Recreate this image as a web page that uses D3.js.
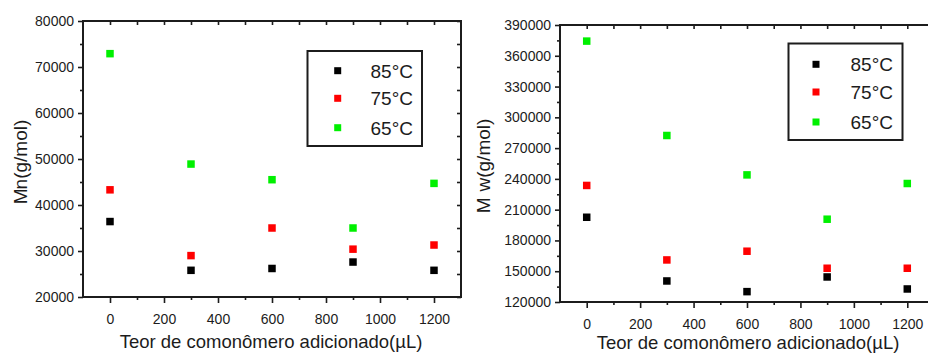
<!DOCTYPE html>
<html>
<head>
<meta charset="utf-8">
<script src="https://cdn.jsdelivr.net/npm/d3@7"></script>
<style>
  html, body { margin: 0; padding: 0; background: #fff; }
  svg { display: block; font-family: "Liberation Sans", Arial, sans-serif; }
</style>
</head>
<body>
<svg id="chart" width="928" height="354"></svg>
<script>
// Comonomer volume added (µL) and polymerisation temperatures
const comonomer = [0, 300, 600, 900, 1200];
const temps = ["85°C", "75°C", "65°C"];
const tempColors = ["#000000", "#ff0000", "#00f000"];

// Number-average molar mass Mn (g/mol)
const mn85 = [36400, 25800, 26200, 27600, 25800];
const mn75 = [43300, 29000, 35000, 30400, 31300];
const mn65 = [72900, 48900, 45500, 35000, 44700];

// Weight-average molar mass Mw (g/mol)
const mw85 = [202600, 140500, 130100, 144400, 132700];
const mw75 = [233600, 161000, 169500, 152900, 152900];
const mw65 = [374300, 282300, 243900, 200700, 235500];

// Axis ticks
const xMajor = [0, 200, 400, 600, 800, 1000, 1200];
const xMinor = [-100, 100, 300, 500, 700, 900, 1100, 1300];
const mnMajor = [20000, 30000, 40000, 50000, 60000, 70000, 80000];
const mwMajor = [120000, 150000, 180000, 210000, 240000, 270000, 300000, 330000, 360000, 390000];

const svg = d3.select("#chart");
const ink = "#1c1c1c";

function panel(cfg) {
  const g = svg.append("g");
  const x = d3.scaleLinear().domain([-100, 1300]).range([cfg.left, cfg.right]);
  const y = d3.scaleLinear().domain(cfg.yDomain).range([cfg.bottom, cfg.top]);

  const styleAxis = sel => {
    sel.select(".domain").remove();
    sel.selectAll(".tick line").attr("stroke", ink).attr("stroke-width", 1.6);
    sel.selectAll(".tick text").attr("fill", ink).attr("font-size", 14)
      .attr("font-family", "Liberation Sans, Arial, sans-serif");
  };

  // bottom: major ticks with labels, minor ticks between
  g.append("g").attr("transform", `translate(0,${cfg.bottom})`)
    .call(d3.axisBottom(x).tickValues(xMajor).tickSize(6).tickPadding(11).tickFormat(d3.format("d")))
    .call(styleAxis);
  g.append("g").attr("transform", `translate(0,${cfg.bottom})`)
    .call(d3.axisBottom(x).tickValues(xMinor.filter(v => v > -100 && v < 1300)).tickSize(3).tickFormat(""))
    .call(styleAxis);
  // top: mirrored inward ticks
  g.append("g").attr("transform", `translate(0,${cfg.top})`)
    .call(d3.axisTop(x).tickValues(xMajor.concat(xMinor).filter(v => v > -100 && v < 1300)).tickSize(-4).tickFormat(""))
    .call(styleAxis);

  // left: major ticks with labels, minor ticks between
  const yMinor = d3.range(cfg.yDomain[0] + cfg.yStep / 2, cfg.yDomain[1], cfg.yStep);
  g.append("g").attr("transform", `translate(${cfg.left},0)`)
    .call(d3.axisLeft(y).tickValues(cfg.yMajor).tickSize(5).tickPadding(4).tickFormat(d3.format("d")))
    .call(styleAxis);
  g.append("g").attr("transform", `translate(${cfg.left},0)`)
    .call(d3.axisLeft(y).tickValues(yMinor).tickSize(3).tickFormat(""))
    .call(styleAxis);
  // right: mirrored inward ticks
  g.append("g").attr("transform", `translate(${cfg.right},0)`)
    .call(d3.axisRight(y).tickValues(cfg.yMajor.concat(yMinor)).tickSize(-4).tickFormat(""))
    .call(styleAxis);

  // frame
  g.append("rect")
    .attr("x", cfg.left).attr("y", cfg.top)
    .attr("width", cfg.right - cfg.left).attr("height", cfg.bottom - cfg.top)
    .attr("fill", "none").attr("stroke", ink).attr("stroke-width", 2);

  // data markers
  const s = 7.5;
  cfg.series.forEach((vals, i) => {
    g.append("g").selectAll("rect").data(vals).join("rect")
      .attr("x", (d, j) => x(comonomer[j]) - s / 2)
      .attr("y", d => y(d) - s / 2)
      .attr("width", s).attr("height", s)
      .attr("fill", tempColors[i]);
  });

  // legend
  const L = cfg.legend;
  g.append("rect")
    .attr("x", L.x0).attr("y", L.y0).attr("width", L.x1 - L.x0).attr("height", L.y1 - L.y0)
    .attr("fill", "#fff").attr("stroke", ink).attr("stroke-width", 2);
  temps.forEach((t, i) => {
    const ry = L.rows[i];
    g.append("rect").attr("x", L.mx - 3.5).attr("y", ry - 3.5).attr("width", 7).attr("height", 7)
      .attr("fill", tempColors[i]);
    g.append("text").attr("x", L.tx).attr("y", ry + 7)
      .attr("text-anchor", "end").attr("font-size", 19).attr("fill", ink).text(t);
  });

  // axis titles
  g.append("text")
    .attr("x", (cfg.xTitle.x)).attr("y", cfg.xTitle.y)
    .attr("text-anchor", "middle").attr("font-size", 18.5).attr("fill", ink)
    .text("Teor de comonômero adicionado(µL)");
  const yt = g.append("text")
    .attr("transform", `translate(${cfg.yTitle.x},${cfg.yTitle.y}) rotate(-90)`)
    .attr("text-anchor", "middle").attr("font-size", 19).attr("fill", ink);
  yt.append("tspan").text("M");
  yt.append("tspan").attr("dx", cfg.yTitle.gap).text(cfg.yTitle.rest);
}

panel({
  left: 83, right: 461, top: 21, bottom: 297,
  yDomain: [20000, 80000], yMajor: mnMajor, yStep: 10000,
  series: [mn85, mn75, mn65],
  legend: { x0: 307.5, x1: 422, y0: 51, y1: 146, mx: 337.7, tx: 413, rows: [70.7, 98.3, 127.7] },
  xTitle: { x: 271, y: 348 },
  yTitle: { x: 27, y: 162, gap: -1, rest: "n(g/mol)" }
});

panel({
  left: 560, right: 934, top: 25, bottom: 302,
  yDomain: [120000, 390000], yMajor: mwMajor, yStep: 30000,
  series: [mw85, mw75, mw65],
  legend: { x0: 788.5, x1: 902.5, y0: 43.5, y1: 140, mx: 816, tx: 893, rows: [64.3, 92, 122] },
  xTitle: { x: 748, y: 349 },
  yTitle: { x: 490, y: 166, gap: 6, rest: "w(g/mol)" }
});
</script>
</body>
</html>
